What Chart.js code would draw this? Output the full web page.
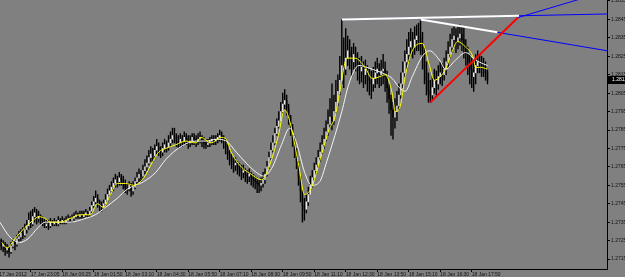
<!DOCTYPE html>
<html>
<head>
<meta charset="utf-8">
<script src="https://cdn.jsdelivr.net/npm/chart.js@4.4.0/dist/chart.umd.min.js"></script>
<style>
html, body { margin: 0; padding: 0; background: #808080; }
canvas { display: block; }
</style>
</head>
<body>
<canvas id="chart" width="625" height="277"></canvas>
<script>
'use strict';

// M5 bars, 17-18 Jan 2012 (bar index on x, one tick label every 16 bars)
var xTickLabels = ['17 Jan 2012', '17 Jan 23:05', '18 Jan 00:25', '18 Jan 01:50', '18 Jan 03:10',
    '18 Jan 04:30', '18 Jan 05:50', '18 Jan 07:10', '18 Jan 08:30', '18 Jan 09:50', '18 Jan 11:10',
    '18 Jan 12:30', '18 Jan 13:50', '18 Jan 15:10', '18 Jan 16:30', '18 Jan 17:50'];

var priceTicks = [1.2715, 1.2725, 1.2735, 1.2745, 1.2755, 1.2765, 1.2775, 1.2785,
    1.2795, 1.2805, 1.2815, 1.2825, 1.2835, 1.2845, 1.2855];

var firstOpen = 1.2727;

var highs = [
    1.2728,1.2726,1.2725,1.2724,1.2723,1.2722,1.2724,1.2726,1.2725,1.2728,
    1.2730,1.2731,1.2732,1.2734,1.2736,1.2740,1.2741,1.2742,1.2743,1.2742,
    1.2741,1.2739,1.2738,1.2737,1.2736,1.2736,1.2737,1.2736,1.2737,1.2736,
    1.2738,1.2737,1.2738,1.2737,1.2738,1.2739,1.2738,1.2739,1.2740,1.2741,
    1.2740,1.2741,1.2741,1.2741,1.2742,1.2741,1.2743,1.2746,1.2749,1.2752,
    1.2750,1.2747,1.2746,1.2747,1.2750,1.2753,1.2755,1.2757,1.2759,1.2761,
    1.2760,1.2762,1.2761,1.2760,1.2758,1.2756,1.2757,1.2756,1.2757,1.2759,
    1.2762,1.2764,1.2763,1.2766,1.2769,1.2771,1.2774,1.2776,1.2775,1.2777,
    1.2780,1.2778,1.2776,1.2778,1.2780,1.2779,1.2782,1.2784,1.2786,1.2786,
    1.2783,1.2782,1.2783,1.2782,1.2784,1.2783,1.2782,1.2782,1.2783,1.2783,
    1.2782,1.2783,1.2784,1.2782,1.2781,1.2780,1.2780,1.2781,1.2782,1.2782,
    1.2782,1.2783,1.2785,1.2784,1.2782,1.2780,1.2777,1.2774,1.2772,1.2770,
    1.2770,1.2768,1.2767,1.2766,1.2766,1.2764,1.2763,1.2764,1.2762,1.2761,
    1.2760,1.2759,1.2758,1.2759,1.2762,1.2764,1.2768,1.2773,1.2778,1.2782,
    1.2786,1.2791,1.2795,1.2800,1.2805,1.2807,1.2804,1.2799,1.2793,1.2788,
    1.2782,1.2775,1.2768,1.2760,1.2752,1.2748,1.2750,1.2754,1.2760,1.2763,
    1.2767,1.2770,1.2774,1.2778,1.2782,1.2786,1.2790,1.2796,1.2802,1.2810,
    1.2804,1.2812,1.2815,1.2825,1.2845,1.2835,1.2840,1.2836,1.2834,1.2830,
    1.2832,1.2830,1.2827,1.2824,1.2825,1.2822,1.2823,1.2820,1.2818,1.2817,
    1.2819,1.2822,1.2824,1.2821,1.2823,1.2826,1.2822,1.2817,1.2810,1.2804,
    1.2800,1.2802,1.2806,1.2810,1.2816,1.2822,1.2828,1.2834,1.2838,1.2840,
    1.2838,1.2841,1.2842,1.2843,1.2845,1.2838,1.2830,1.2822,1.2816,1.2812,
    1.2814,1.2818,1.2817,1.2820,1.2822,1.2821,1.2824,1.2828,1.2833,1.2837,
    1.2840,1.2841,1.2840,1.2841,1.2842,1.2841,1.2841,1.2834,1.2830,1.2826,
    1.2824,1.2822,1.2826,1.2828,1.2826,1.2825,1.2824,1.2822,1.2818
];

var lows = [
    1.2722,1.2720,1.2719,1.2717,1.2718,1.2716,1.2718,1.2721,1.2720,1.2722,
    1.2724,1.2725,1.2726,1.2727,1.2729,1.2731,1.2732,1.2733,1.2735,1.2734,
    1.2735,1.2734,1.2733,1.2732,1.2732,1.2731,1.2732,1.2733,1.2733,1.2733,
    1.2733,1.2734,1.2734,1.2734,1.2734,1.2735,1.2735,1.2735,1.2736,1.2737,
    1.2737,1.2737,1.2737,1.2737,1.2738,1.2738,1.2738,1.2740,1.2743,1.2745,
    1.2743,1.2741,1.2741,1.2742,1.2744,1.2746,1.2749,1.2751,1.2752,1.2754,
    1.2754,1.2755,1.2755,1.2753,1.2751,1.2750,1.2752,1.2749,1.2750,1.2753,
    1.2755,1.2757,1.2757,1.2759,1.2761,1.2763,1.2766,1.2768,1.2768,1.2770,
    1.2772,1.2771,1.2770,1.2771,1.2773,1.2773,1.2774,1.2776,1.2778,1.2778,
    1.2776,1.2775,1.2776,1.2776,1.2777,1.2777,1.2775,1.2776,1.2777,1.2777,
    1.2776,1.2777,1.2778,1.2776,1.2775,1.2775,1.2776,1.2776,1.2777,1.2777,
    1.2777,1.2778,1.2779,1.2778,1.2775,1.2772,1.2769,1.2766,1.2764,1.2762,
    1.2763,1.2761,1.2760,1.2758,1.2759,1.2757,1.2756,1.2757,1.2755,1.2754,
    1.2753,1.2751,1.2751,1.2752,1.2754,1.2756,1.2760,1.2764,1.2769,1.2773,
    1.2777,1.2782,1.2786,1.2790,1.2794,1.2796,1.2793,1.2788,1.2782,1.2776,
    1.2770,1.2764,1.2755,1.2746,1.2735,1.2736,1.2740,1.2744,1.2750,1.2754,
    1.2758,1.2761,1.2765,1.2768,1.2772,1.2775,1.2779,1.2782,1.2786,1.2785,
    1.2788,1.2794,1.2798,1.2804,1.2810,1.2808,1.2815,1.2820,1.2818,1.2814,
    1.2818,1.2817,1.2812,1.2810,1.2811,1.2808,1.2810,1.2806,1.2804,1.2802,
    1.2806,1.2808,1.2810,1.2808,1.2809,1.2810,1.2806,1.2800,1.2794,1.2782,
    1.2780,1.2786,1.2790,1.2796,1.2802,1.2808,1.2814,1.2818,1.2822,1.2825,
    1.2824,1.2826,1.2828,1.2828,1.2826,1.2818,1.2810,1.2804,1.2800,1.2800,
    1.2802,1.2805,1.2804,1.2807,1.2810,1.2809,1.2812,1.2815,1.2819,1.2824,
    1.2827,1.2830,1.2827,1.2829,1.2831,1.2828,1.2824,1.2820,1.2815,1.2810,
    1.2808,1.2806,1.2810,1.2816,1.2816,1.2814,1.2814,1.2812,1.2810
];

var closes = [
    1.2725,1.2722,1.2723,1.2720,1.2721,1.2719,1.2722,1.2724,1.2723,1.2726,
    1.2727,1.2729,1.2728,1.2731,1.2733,1.2736,1.2734,1.2738,1.2740,1.2737,
    1.2738,1.2736,1.2735,1.2733,1.2734,1.2733,1.2735,1.2734,1.2735,1.2734,
    1.2736,1.2735,1.2736,1.2735,1.2736,1.2737,1.2736,1.2737,1.2738,1.2739,
    1.2738,1.2739,1.2738,1.2739,1.2740,1.2739,1.2741,1.2744,1.2746,1.2748,
    1.2746,1.2744,1.2743,1.2745,1.2747,1.2750,1.2752,1.2754,1.2756,1.2758,
    1.2757,1.2759,1.2758,1.2756,1.2754,1.2753,1.2755,1.2752,1.2754,1.2757,
    1.2759,1.2761,1.2760,1.2763,1.2765,1.2767,1.2770,1.2772,1.2771,1.2774,
    1.2776,1.2774,1.2773,1.2775,1.2777,1.2776,1.2778,1.2780,1.2782,1.2781,
    1.2779,1.2778,1.2780,1.2779,1.2781,1.2780,1.2778,1.2779,1.2781,1.2780,
    1.2779,1.2780,1.2781,1.2779,1.2778,1.2777,1.2778,1.2779,1.2780,1.2779,
    1.2780,1.2781,1.2782,1.2780,1.2779,1.2776,1.2772,1.2770,1.2768,1.2766,
    1.2767,1.2765,1.2764,1.2762,1.2763,1.2761,1.2760,1.2761,1.2759,1.2758,
    1.2757,1.2756,1.2755,1.2756,1.2758,1.2761,1.2765,1.2770,1.2774,1.2778,
    1.2783,1.2787,1.2790,1.2795,1.2799,1.2801,1.2797,1.2792,1.2786,1.2780,
    1.2774,1.2768,1.2760,1.2752,1.2744,1.2742,1.2746,1.2750,1.2755,1.2759,
    1.2763,1.2766,1.2770,1.2773,1.2777,1.2780,1.2784,1.2788,1.2792,1.2790,
    1.2795,1.2800,1.2806,1.2812,1.2820,1.2818,1.2824,1.2828,1.2825,1.2822,
    1.2826,1.2824,1.2820,1.2817,1.2819,1.2815,1.2818,1.2814,1.2812,1.2810,
    1.2813,1.2816,1.2818,1.2815,1.2817,1.2818,1.2814,1.2808,1.2802,1.2796,
    1.2792,1.2795,1.2798,1.2804,1.2810,1.2816,1.2822,1.2826,1.2830,1.2833,
    1.2830,1.2834,1.2836,1.2835,1.2830,1.2826,1.2818,1.2812,1.2806,1.2804,
    1.2808,1.2812,1.2810,1.2814,1.2816,1.2815,1.2818,1.2822,1.2826,1.2830,
    1.2834,1.2836,1.2833,1.2835,1.2837,1.2834,1.2830,1.2826,1.2822,1.2818,
    1.2814,1.2816,1.2820,1.2822,1.2821,1.2820,1.2818,1.2816,1.2812
];

// moving averages as [bar, price]
var maFast = [
    [1.3,1.2724],[3.9,1.2721],[8,1.2726],[13,1.2732],[17.2,1.2736],[20.2,1.2738],[23.3,1.2737],
    [25.9,1.2735],[31,1.2735],[36,1.2737],[41.2,1.2739],[46.3,1.2739],[49.9,1.2745],[52.9,1.2743],
    [56.5,1.2750],[60,1.2756],[64.2,1.2756],[68.3,1.2755],[73.4,1.2759],[77,1.2766],[81,1.2773],
    [84.6,1.2775],[89.7,1.2777],[94.8,1.2779],[100,1.2778],[102.5,1.2781],[107.6,1.2778],
    [112.7,1.2781],[115.3,1.2780],[117.8,1.2773],[122.9,1.2765],[128,1.2761],[133.2,1.2758],
    [136.7,1.2764],[141.8,1.2782],[144.9,1.2796],[147.5,1.2790],[152.1,1.2766],[155.1,1.2750],
    [158.7,1.2754],[163.8,1.2772],[167.4,1.2785],[170.5,1.2792],[173,1.2806],[176.6,1.2824],
    [180.7,1.2824],[185.8,1.2819],[189.4,1.2813],[193.5,1.2814],[196,1.2815],[199.6,1.2805],
    [201.1,1.2795],[203.7,1.2798],[206.2,1.2814],[209.8,1.2828],[214.9,1.2832],[218.5,1.2820],
    [221,1.2812],[224,1.2814],[226.7,1.2818],[230.2,1.2828],[232.8,1.2833],[236.9,1.2830],
    [240.5,1.2825],[242,1.2819],[244.5,1.2819],[248,1.2818]
];

var maSlow = [
    [0.3,1.2735],[5.4,1.2727],[10.5,1.2724],[14.6,1.2726],[19.7,1.2732],[23.3,1.2735],[28.4,1.2735],
    [36,1.2735],[43.7,1.2737],[48.8,1.2739],[54,1.2743],[60,1.2748],[65.2,1.2753],[73.4,1.2757],
    [79.5,1.2762],[84.6,1.2769],[92.3,1.2776],[100,1.2779],[105,1.2779],[110.2,1.2780],
    [115.3,1.2779],[120.4,1.2773],[125.5,1.2767],[130.6,1.2762],[134.2,1.2760],[138.3,1.2764],
    [143.4,1.2777],[147.5,1.2786],[151,1.2778],[155.1,1.2762],[158.7,1.2755],[162.8,1.2757],
    [166.4,1.2768],[170.5,1.2782],[174,1.2795],[177.6,1.2810],[182.7,1.2820],[189.4,1.2818],
    [194.5,1.2816],[199.6,1.2813],[203.2,1.2808],[206.2,1.2806],[209.8,1.2814],[214.9,1.2825],
    [218.5,1.2828],[223.6,1.2823],[226.7,1.2818],[231.8,1.2823],[236.9,1.2827],[242,1.2823],
    [245.6,1.2821],[248,1.2820]
];

// trend lines as [bar, price] end points
var trendTop = [[174, 1.2845], [264, 1.2847]];
var trendTopRay = [[174, 1.2845], [320, 1.28482]];
var trendFall = [[214, 1.2845], [253, 1.2838]];
var trendFallRay = [[214, 1.2845], [320, 1.2826]];
var trendRise = [[219, 1.2800], [263.5, 1.2846]];
var trendRiseRay = [[219, 1.2800], [263.5, 1.2846], [298, 1.2857]];

function pts(list) {
    return list.map(function (p) { return { x: p[0], y: p[1] }; });
}

// candles: wick = low..high, body = open..close (open is the previous close)
var wicks = [], bodies = [], bodyColors = [];
closes.forEach(function (c, i) {
    var o = i ? closes[i - 1] : firstOpen;
    wicks.push({ x: i, y: [lows[i], highs[i]] });
    bodies.push({ x: i, y: [o, c] });
    bodyColors.push(c > o ? '#e8e8e8' : '#000000');
});

function line(list, color, width, order, smooth) {
    return {
        type: 'line',
        data: pts(list),
        borderColor: color,
        borderWidth: width,
        pointRadius: 0,
        fill: false,
        tension: smooth ? 0.4 : 0,
        cubicInterpolationMode: smooth ? 'monotone' : 'default',
        order: order
    };
}

var font = { family: 'Liberation Sans', size: 5 };

// black box with the last price on the right axis
var priceBox = {
    id: 'priceBox',
    afterDraw: function (chart) {
        var ctx = chart.ctx,
            last = closes[closes.length - 1],
            y = chart.scales.y.getPixelForValue(last),
            left = chart.chartArea.right + 1;
        ctx.save();
        ctx.fillStyle = '#000000';
        ctx.fillRect(left, Math.round(y) - 4, chart.width - left, 8);
        ctx.fillStyle = '#ffffff';
        ctx.font = '5px "Liberation Sans"';
        ctx.textBaseline = 'middle';
        ctx.fillText(last.toFixed(4), left + 4, Math.round(y));
        ctx.restore();
    }
};

var ctx = document.getElementById('chart').getContext('2d');
var chart = new Chart(ctx, {
    type: 'bar',
    data: {
        datasets: [
            { data: wicks, backgroundColor: '#000000', barThickness: 0.75, borderWidth: 0, grouped: false, order: 5 },
            { data: bodies, backgroundColor: bodyColors, barThickness: 0.75, borderWidth: 0, grouped: false, order: 4 },
            line(maSlow, '#f4f4f4', 1, 3, true),
            line(maFast, '#ffff00', 1, 2, true),
            line(trendTopRay, '#0000ff', 1, 1),
            line(trendFallRay, '#0000ff', 1, 1),
            line(trendRiseRay, '#0000ff', 1, 1),
            line(trendTop, '#ffffff', 2, 0),
            line(trendFall, '#ffffff', 2, 0),
            line(trendRise, '#ff0000', 2, 0)
        ]
    },
    options: {
        responsive: false,
        animation: false,
        events: [],
        devicePixelRatio: 1,
        layout: { padding: 0 },
        plugins: { legend: { display: false }, tooltip: { enabled: false } },
        scales: {
            x: {
                type: 'linear',
                min: 0.4,
                max: 308.7,
                offset: false,
                grid: { offset: false, drawOnChartArea: false, drawTicks: true, tickLength: 3, color: '#000000' },
                border: { display: true, color: '#000000' },
                ticks: {
                    autoSkip: false, maxRotation: 0, align: 'start', padding: 0,
                    color: '#111111', font: font,
                    callback: function (v, i) { return xTickLabels[i]; }
                },
                afterBuildTicks: function (s) {
                    s.ticks = xTickLabels.map(function (l, k) { return { value: k * 16 }; });
                },
                afterFit: function (s) { s.height = 8; s.paddingLeft = 0; s.paddingRight = 0; }
            },
            y: {
                type: 'linear',
                position: 'right',
                min: 1.270958,
                max: 1.285554,
                beginAtZero: false,
                grid: { drawOnChartArea: false, drawTicks: true, tickLength: 3, color: '#000000' },
                border: { display: true, color: '#000000' },
                ticks: {
                    crossAlign: 'near', padding: 1, color: '#111111', font: font,
                    callback: function (v) { return v.toFixed(4); }
                },
                afterBuildTicks: function (s) {
                    s.ticks = priceTicks.map(function (v) { return { value: v }; });
                },
                afterFit: function (s) { s.width = 18; s.paddingTop = 0; s.paddingBottom = 0; }
            }
        }
    },
    plugins: [priceBox]
});
</script>
</body>
</html>
